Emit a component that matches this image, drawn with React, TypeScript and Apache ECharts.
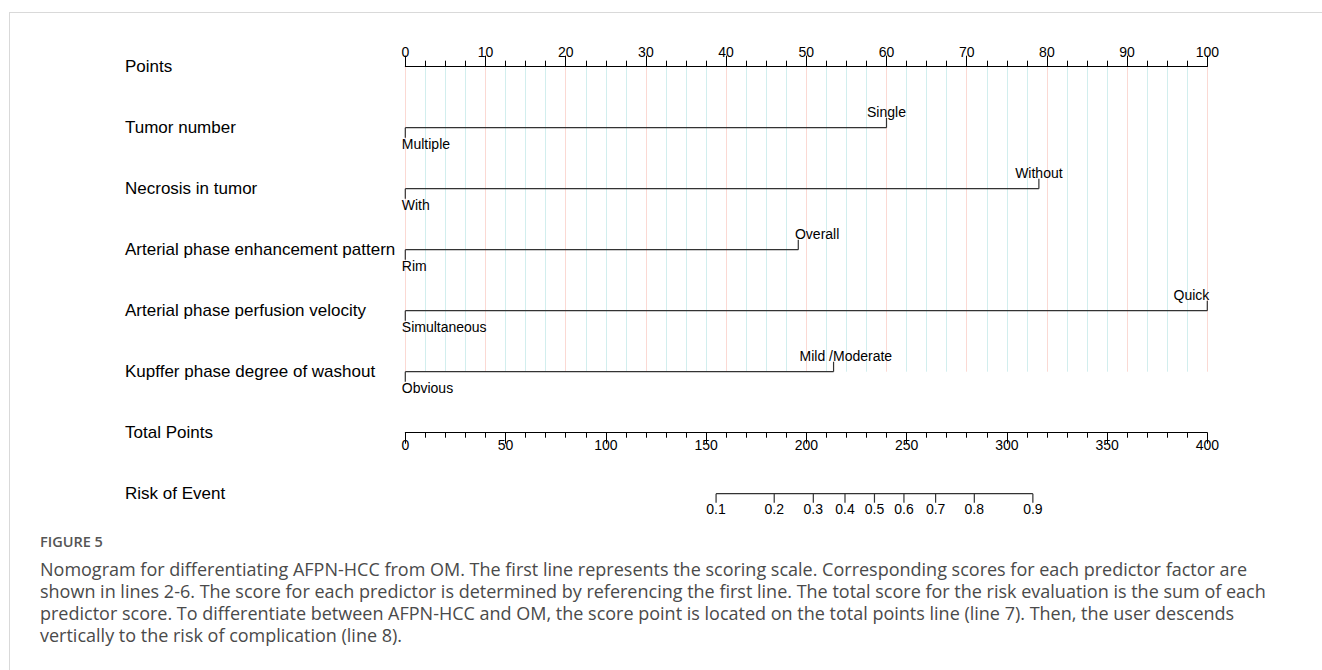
import React, { useEffect, useRef } from "react";
import * as echarts from "echarts";

// ---------- data ----------
const rowLabels = [
  "Points",
  "Tumor number",
  "Necrosis in tumor",
  "Arterial phase enhancement pattern",
  "Arterial phase perfusion velocity",
  "Kupffer phase degree of washout",
  "Total Points",
  "Risk of Event",
];
const lowLevels = ["Multiple", "With", "Rim", "Simultaneous", "Obvious"];
const highLevels = ["Single", "Without", "Overall", "Quick", "Mild /Moderate"];
const lowPoints = [0, 0, 0, 0, 0];
const highPoints = [60, 79, 49, 100, 53.4];
const riskTicks = [0.1, 0.2, 0.3, 0.4, 0.5, 0.6, 0.7, 0.8, 0.9];
// total points at which each risk tick sits
const riskTotalPoints = [155, 184, 203.5, 219.3, 234, 248.7, 264.5, 283.8, 313];

const captionTitle = "FIGURE 5";
const captionLines = [
  "Nomogram for differentiating AFPN-HCC from OM. The first line represents the scoring scale. Corresponding scores for each predictor factor are",
  "shown in lines 2-6. The score for each predictor is determined by referencing the first line. The total score for the risk evaluation is the sum of each",
  "predictor score. To differentiate between AFPN-HCC and OM, the score point is located on the total points line (line 7). Then, the user descends",
  "vertically to the risk of complication (line 8).",
];

// ---------- styling ----------
const highAlign = ["center", "center", "left", "right", "left"];
const highOffset = [0, 0, -3.3, 2, -34];
const FONT = "'Liberation Sans', Arial, Helvetica, sans-serif";
const CAPFONT = "'Open Sans', 'Noto Sans', sans-serif";
const LEFT = 405.3;
const WIDTH = 802;
const ROW0 = 66.7;
const ROWH = 61;

export default function App() {
  const ref = useRef<HTMLDivElement>(null);
  useEffect(() => {
    if (!ref.current) return;
    const chart = echarts.init(ref.current, undefined, { renderer: "svg" });

    const predictorData = highLevels.map((_, i) => [i + 1, lowPoints[i], highPoints[i]]);
    const riskData = riskTicks.map((r, i) => [riskTotalPoints[i], 7, r]);

    const rowAxisLabel = {
      formatter: (v: number) => rowLabels[v] ?? "",
      align: "left",
      margin: LEFT - 125,
      color: "#000",
      fontSize: 17,
      fontFamily: FONT,
    };

    const option: any = {
      animation: false,
      backgroundColor: "#fff",
      grid: [
        { left: LEFT, top: ROW0, width: WIDTH, height: ROWH * 5 },
        { left: LEFT, top: ROW0 + ROWH * 6, width: WIDTH, height: ROWH },
      ],
      xAxis: [
        {
          gridIndex: 0,
          type: "value",
          min: 0,
          max: 100,
          interval: 10,
          position: "top",
          axisLine: { show: true, onZero: false, lineStyle: { color: "#000", width: 1 } },
          axisTick: { show: true, length: 11, lineStyle: { color: "#000", width: 1 } },
          minorTick: { show: true, splitNumber: 4, length: 6, lineStyle: { color: "#000", width: 1 } },
          axisLabel: { margin: 8, color: "#000", fontSize: 14, fontFamily: FONT },
          splitLine: { show: true, lineStyle: { color: "#fbd9d3", width: 1 } },
          minorSplitLine: { show: true, lineStyle: { color: "#d2eeee", width: 1 } },
        },
        {
          gridIndex: 1,
          type: "value",
          min: 0,
          max: 400,
          interval: 50,
          position: "top",
          axisLine: { show: true, onZero: false, lineStyle: { color: "#000", width: 1 } },
          axisTick: { show: true, inside: true, length: 11, lineStyle: { color: "#000", width: 1 } },
          minorTick: { show: true, splitNumber: 5, length: 5, lineStyle: { color: "#000", width: 1 } },
          axisLabel: { inside: true, margin: 5, color: "#000", fontSize: 14, fontFamily: FONT },
          splitLine: { show: false },
        },
      ],
      yAxis: [
        {
          gridIndex: 0,
          type: "value",
          min: 0,
          max: 5,
          interval: 1,
          inverse: true,
          axisLine: { show: false },
          axisTick: { show: false },
          splitLine: { show: false },
          axisLabel: rowAxisLabel,
        },
        {
          gridIndex: 1,
          type: "value",
          min: 6,
          max: 7,
          interval: 1,
          inverse: true,
          axisLine: { show: false },
          axisTick: { show: false },
          splitLine: { show: false },
          axisLabel: rowAxisLabel,
        },
      ],
      series: [
        {
          type: "custom",
          xAxisIndex: 0,
          yAxisIndex: 0,
          clip: false,
          data: predictorData,
          encode: { x: [1, 2], y: 0 },
          renderItem: (params: any, api: any) => {
            const row = api.value(0);
            const p0 = api.coord([api.value(1), row]);
            const p1 = api.coord([api.value(2), row]);
            const i = params.dataIndex;
            const stroke = { stroke: "#333", lineWidth: 1.2 };
            return {
              type: "group",
              children: [
                { type: "line", shape: { x1: p0[0], y1: p0[1], x2: p1[0], y2: p1[1] }, style: stroke },
                { type: "line", shape: { x1: p0[0], y1: p0[1], x2: p0[0], y2: p0[1] + 10 }, style: stroke },
                { type: "line", shape: { x1: p1[0], y1: p1[1], x2: p1[0], y2: p1[1] - 10 }, style: stroke },
                {
                  type: "text",
                  style: {
                    text: lowLevels[i],
                    x: p0[0] - 3.5,
                    y: p0[1] + 16,
                    align: "left",
                    verticalAlign: "middle",
                    fontSize: 14,
                    fontFamily: FONT,
                    fill: "#000",
                  },
                },
                {
                  type: "text",
                  style: {
                    text: highLevels[i],
                    x: p1[0] + highOffset[i],
                    y: p1[1] - 16,
                    align: highAlign[i],
                    verticalAlign: "middle",
                    fontSize: 14,
                    fontFamily: FONT,
                    fill: "#000",
                  },
                },
              ],
            };
          },
        },
        {
          type: "custom",
          xAxisIndex: 1,
          yAxisIndex: 1,
          clip: false,
          data: riskData,
          encode: { x: 0, y: 1 },
          renderItem: (params: any, api: any) => {
            const p = api.coord([api.value(0), api.value(1)]);
            const i = params.dataIndex;
            const children: any[] = [
              { type: "line", shape: { x1: p[0], y1: p[1], x2: p[0], y2: p[1] + 9 }, style: { stroke: "#333", lineWidth: 1.2 } },
              {
                type: "text",
                style: {
                  text: String(riskTicks[i]),
                  x: p[0],
                  y: p[1] + 15,
                  align: "center",
                  verticalAlign: "middle",
                  fontSize: 14,
                  fontFamily: FONT,
                  fill: "#000",
                },
              },
            ];
            if (i === 0) {
              const pe = api.coord([riskTotalPoints[riskTotalPoints.length - 1], api.value(1)]);
              children.push({
                type: "line",
                shape: { x1: p[0], y1: p[1], x2: pe[0], y2: pe[1] },
                style: { stroke: "#333", lineWidth: 1.2 },
              });
            }
            return { type: "group", children };
          },
        },
      ],
      graphic: [
        { type: "line", shape: { x1: 9, y1: 12.5, x2: 1322, y2: 12.5 }, style: { stroke: "#d9d9d9", lineWidth: 1 } },
        { type: "line", shape: { x1: 9.5, y1: 12, x2: 9.5, y2: 670 }, style: { stroke: "#d9d9d9", lineWidth: 1 } },
        {
          type: "text",
          left: 40,
          top: 534,
          style: { text: captionTitle, fontSize: 14.5, fontWeight: 600, fontFamily: CAPFONT, fill: "#555" },
        },
        {
          type: "text",
          left: 40,
          top: 558,
          style: {
            text: captionLines.join("\n"),
            fontSize: 18,
            lineHeight: 22,
            fontFamily: CAPFONT,
            fill: "#4a4a4a",
          },
        },
      ],
    };
    chart.setOption(option);
    return () => chart.dispose();
  }, []);
  return <div ref={ref} style={{ position: "fixed", left: 0, top: 0, width: 1322, height: 670 }} />;
}
